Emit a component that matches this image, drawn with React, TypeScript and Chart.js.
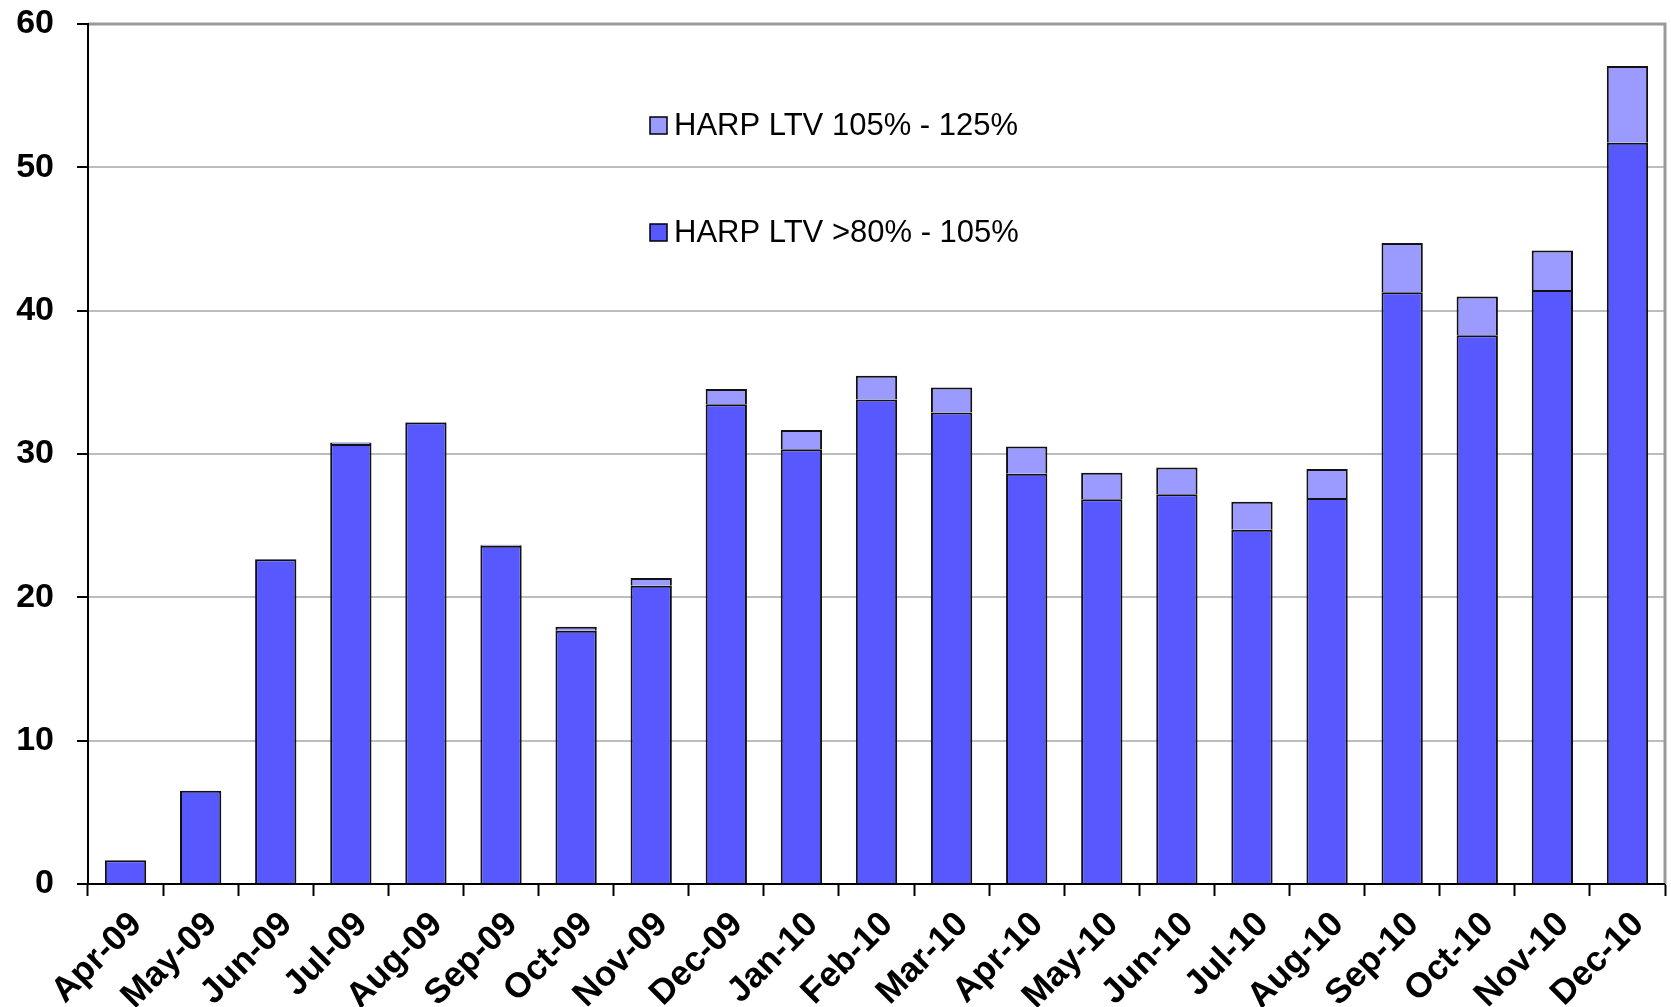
import React, { useEffect, useRef } from 'react';
import { Chart, registerables } from 'chart.js';

Chart.register(...registerables);

const months = [
  'Apr-09', 'May-09', 'Jun-09', 'Jul-09', 'Aug-09', 'Sep-09', 'Oct-09', 'Nov-09', 'Dec-09',
  'Jan-10', 'Feb-10', 'Mar-10', 'Apr-10', 'May-10', 'Jun-10', 'Jul-10', 'Aug-10',
  'Sep-10', 'Oct-10', 'Nov-10', 'Dec-10',
];

const ltv80to105 = [
  1.65, 6.5, 22.65, 30.7, 32.2, 23.6, 17.67, 20.8, 33.47,
  30.33, 33.8, 32.9, 28.63, 26.84, 27.2, 24.72, 26.93,
  41.28, 38.28, 41.44, 51.72,
];

const ltv105to125 = [
  null, null, 0.02, 0.1, 0.04, 0.06, 0.28, 0.55, 1.07,
  1.34, 1.66, 1.74, 1.9, 1.86, 1.86, 1.95, 2.02,
  3.44, 2.7, 2.75, 5.35,
];

const seriesLabels = ['HARP LTV >80% - 105%', 'HARP LTV 105% - 125%'];
const yTicks = [0, 10, 20, 30, 40, 50, 60];

const FONT = '"Liberation Sans", Arial, Helvetica, sans-serif';
const BASE_COLOR = '#5858FF';
const TOP_COLOR = '#9A9AFF';
const EDGE = '#111111';

const framePlugin = {
  id: 'frame',
  afterDraw(chart: any) {
    const { ctx, chartArea } = chart;
    const { left, right, top, bottom } = chartArea;
    ctx.save();
    ctx.strokeStyle = '#999999';
    ctx.lineWidth = 3;
    ctx.beginPath();
    ctx.moveTo(left, top);
    ctx.lineTo(right, top);
    ctx.lineTo(right, bottom);
    ctx.stroke();
    ctx.strokeStyle = '#000';
    ctx.lineWidth = 2;
    ctx.beginPath();
    ctx.moveTo(left, top - 1);
    ctx.lineTo(left, bottom);
    ctx.lineTo(right, bottom);
    ctx.stroke();

    // legend (inside plot area)
    const items = [
      { label: seriesLabels[1], color: TOP_COLOR, y: 125 },
      { label: seriesLabels[0], color: BASE_COLOR, y: 232 },
    ];
    ctx.font = `31px ${FONT}`;
    ctx.textBaseline = 'middle';
    ctx.textAlign = 'left';
    for (const it of items) {
      ctx.fillStyle = it.color;
      ctx.fillRect(650, it.y - 8, 17, 17);
      ctx.strokeStyle = '#000';
      ctx.lineWidth = 1.5;
      ctx.strokeRect(650, it.y - 8, 17, 17);
      ctx.fillStyle = '#000';
      ctx.fillText(it.label, 674, it.y + 1);
    }
    ctx.restore();
  },
};

export default function App() {
  const ref = useRef<HTMLCanvasElement>(null);

  useEffect(() => {
    document.body.style.margin = '0';
    const canvas = ref.current;
    if (!canvas) return;
    const chart = new Chart(canvas, {
      type: 'bar',
      data: {
        labels: months,
        datasets: [
          {
            label: seriesLabels[0],
            data: ltv80to105,
            backgroundColor: BASE_COLOR,
            borderColor: EDGE,
            borderWidth: 2,
            borderSkipped: 'start',
          },
          {
            label: seriesLabels[1],
            data: ltv105to125 as any,
            backgroundColor: TOP_COLOR,
            borderColor: EDGE,
            borderWidth: 2,
            borderSkipped: 'start',
          },
        ],
      },
      options: {
        animation: false,
        responsive: false,
        maintainAspectRatio: false,
        layout: { padding: { top: 24, right: 6, left: 0, bottom: 0 } },
        datasets: { bar: { categoryPercentage: 1, barPercentage: 0.55 } },
        plugins: { legend: { display: false }, tooltip: { enabled: false } },
        scales: {
          x: {
            stacked: true,
            grid: {
              offset: true,
              drawOnChartArea: false,
              drawTicks: true,
              tickLength: 12,
              tickColor: '#000',
              tickWidth: 2,
              color: '#000',
            },
            border: { display: true, color: '#000', width: 2 },
            ticks: {
              autoSkip: false,
              maxRotation: 45,
              minRotation: 45,
              padding: 8,
              labelOffset: 11,
              color: '#000',
              font: { family: FONT, size: 35, weight: 'bold' },
            },
            afterFit(scale: any) {
              scale.height = 123;
              scale.paddingLeft = 0;
              scale.paddingRight = 0;
            },
          },
          y: {
            stacked: true,
            min: 0,
            max: 60,
            afterBuildTicks(scale: any) {
              scale.ticks = yTicks.map((v) => ({ value: v }));
            },
            grid: {
              color: '#bdbdbd',
              lineWidth: 2,
              tickLength: 11,
              tickColor: '#000',
              tickWidth: 2,
            },
            border: { display: true, color: '#000', width: 2 },
            ticks: {
              padding: 23,
              color: '#000',
              font: { family: FONT, size: 34, weight: 'bold' },
            },
            afterFit(scale: any) {
              scale.width = 88;
              scale.paddingTop = 0;
              scale.paddingBottom = 0;
            },
          },
        },
      },
      plugins: [framePlugin],
    });
    return () => chart.destroy();
  }, []);

  return <canvas ref={ref} width={1671} height={1007} style={{ display: 'block' }} />;
}
